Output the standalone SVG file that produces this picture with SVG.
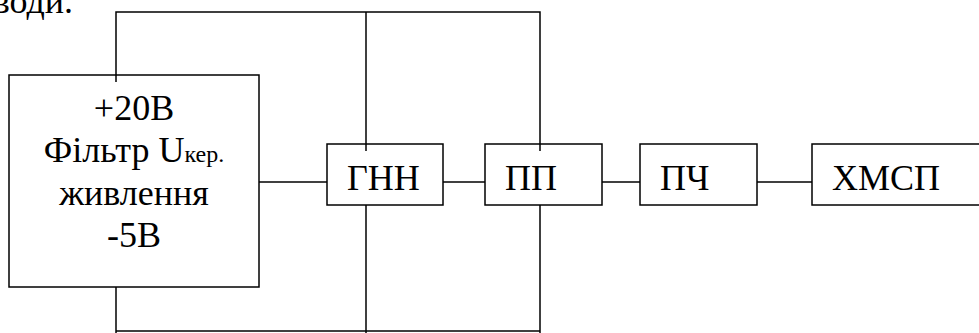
<svg xmlns="http://www.w3.org/2000/svg" width="979" height="333" viewBox="0 0 979 333">
<style>
.b{fill:none;stroke:#000;stroke-width:1.5}
.l{fill:none;stroke:#000;stroke-width:1.5}
.t{font-family:'Liberation Serif','Times New Roman','DejaVu Serif',serif;font-size:36px;fill:#000}
.c{text-anchor:middle}
</style>
<rect width="979" height="333" fill="#fff"/>
<text class="t" x="73" y="13" text-anchor="end">води.</text>
<g id="connectors">
<polyline class="l" points="116,82 116,12 540,12 540,151"/>
<line class="l" x1="366" y1="12" x2="366" y2="151"/>
<line class="l" x1="116" y1="287" x2="116" y2="333"/>
<line class="l" x1="116" y1="331" x2="540" y2="331"/>
<line class="l" x1="366" y1="205" x2="366" y2="333"/>
<line class="l" x1="540" y1="205" x2="540" y2="333"/>
<line class="l" x1="259" y1="182" x2="327" y2="182"/>
<line class="l" x1="443" y1="182" x2="485" y2="182"/>
<line class="l" x1="602" y1="182" x2="640" y2="182"/>
<line class="l" x1="757" y1="182" x2="812" y2="182"/>
</g>
<g id="power">
<rect class="b" x="9" y="75" width="250" height="212"/>
<text class="t c" x="134" y="120">+20В</text>
<text class="t c" x="134" y="162">Фільтр U<tspan style="font-size:24px">кер.</tspan></text>
<text class="t c" x="134" y="205">живлення</text>
<text class="t c" x="134" y="247">-5В</text>
</g>
<g id="gnn">
<rect class="b" x="327" y="144" width="116" height="61"/>
<text class="t" x="347" y="190">ГНН</text>
</g>
<g id="pp">
<rect class="b" x="485" y="144" width="117" height="61"/>
<text class="t" x="505" y="190">ПП</text>
</g>
<g id="pch">
<rect class="b" x="640" y="144" width="117" height="61"/>
<text class="t" x="660" y="190">ПЧ</text>
</g>
<g id="hmsp">
<rect class="b" x="812" y="144" width="170" height="61"/>
<text class="t" x="832" y="190">ХМСП</text>
</g>
</svg>
